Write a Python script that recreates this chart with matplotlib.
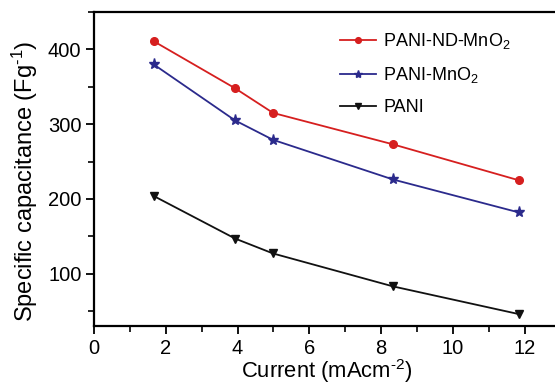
import matplotlib
matplotlib.use("Agg")
import matplotlib.pyplot as plt
from matplotlib.ticker import MultipleLocator

plt.rcParams['font.family'] = ['Liberation Sans', 'DejaVu Sans']
plt.rcParams['mathtext.fontset'] = 'custom'
plt.rcParams['mathtext.rm'] = 'Liberation Sans'
plt.rcParams['mathtext.it'] = 'Liberation Sans'

current = [1.66, 3.93, 4.99, 8.33, 11.83]
pani_nd_mno2 = [411, 348, 315, 273, 225]
pani_mno2 = [380, 305, 279, 226, 182]
pani = [204, 147, 127, 83, 46]

labels = ['PANI-ND-MnO$_2$', 'PANI-MnO$_2$', 'PANI']

fig = plt.figure(figsize=(5.55, 3.86), dpi=100)
ax = fig.add_axes([94/555, (386-326)/386, (555-94)/555 + 0.01, (326-12)/386])

ax.plot(current, pani_nd_mno2, color='#d61f1f', marker='o', ms=5.5, lw=1.3, label=labels[0])
ax.plot(current, pani_mno2, color='#2b2a8c', marker='*', ms=8, lw=1.3, label=labels[1])
ax.plot(current, pani, color='#111111', marker='v', ms=5.5, lw=1.3, label=labels[2])

ax.set_xlim(0, 13)
ax.set_ylim(30, 450)
ax.xaxis.set_major_locator(MultipleLocator(2))
ax.xaxis.set_minor_locator(MultipleLocator(1))
ax.yaxis.set_major_locator(MultipleLocator(100))
ax.yaxis.set_minor_locator(MultipleLocator(50))
ax.tick_params(which='major', direction='out', length=6, width=1.3, labelsize=14.5, pad=3)
ax.tick_params(which='minor', direction='out', length=4, width=1.2)
for s in ax.spines.values():
    s.set_linewidth(1.6)
ax.spines['right'].set_visible(False)

ax.set_xlabel(r'Current (mAcm$^{\text{-}2}$)', fontsize=15.8, labelpad=0)
ax.set_ylabel(r'Specific capacitance (Fg$^{\text{-}1}$)', fontsize=17)
ax.yaxis.set_label_coords(-0.115, 0.46)

leg = ax.legend(loc='upper left', bbox_to_anchor=(340/555, 1 - 31/386),
                bbox_transform=fig.transFigure, frameon=False, fontsize=13,
                handlelength=2.0, labelspacing=0.78, handletextpad=0.4,
                borderpad=0, borderaxespad=0, markerscale=0.75)

fig.savefig('out.png', dpi=100)
